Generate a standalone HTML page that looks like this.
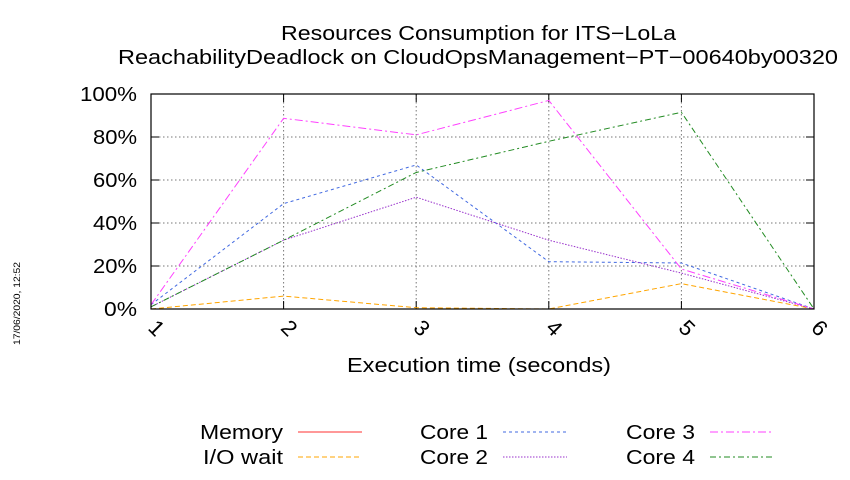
<!DOCTYPE html>
<html><head><meta charset="utf-8"><style>
body{margin:0;background:#fff}
svg{font-family:"Liberation Sans",sans-serif}
</style></head><body>
<svg width="850" height="475" viewBox="0 0 850 475">
<g id="g"></g>
</svg>
<script>
const xTicks=[1,2,3,4,5,6];
const yTicks=[0,20,40,60,80,100];
const memory=[0,0,0,0,0,0];
const ioWait=[0,6,0.6,0,11.8,0];
const core1=[2,49,67,22,21.4,0];
const core2=[1,32,52,32,16.7,0];
const core3=[2,88.7,81,97,18.6,0];
const core4=[1,32,63.5,78,91.5,0];
const L=151,R=814,T=94,B=309;
const xs=v=>L+(v-1)*(R-L)/5, ys=v=>B-v*(B-T)/100;
const ns="http://www.w3.org/2000/svg", g=document.getElementById('g');
function mk(t,a,txt){const e=document.createElementNS(ns,t);for(const k in a)e.setAttribute(k,a[k]);if(txt!=null)e.textContent=txt;g.appendChild(e);return e;}
yTicks.forEach(v=>{
 if(v>0&&v<100){const e=mk('line',{x1:L,x2:R,y1:ys(v),y2:ys(v),stroke:'#777','stroke-dasharray':'1.5,2.5','stroke-width':1});
 
 }
 const w=v===100?57:(v===0?33:44);
 const t=mk('text',{x:137-w,y:ys(v)+7,'font-size':20,textLength:w,lengthAdjust:'spacingAndGlyphs'},v+'%');
 
 
 mk('line',{x1:L,x2:L+8,y1:ys(v),y2:ys(v),stroke:'#000'});
 mk('line',{x1:R,x2:R-8,y1:ys(v),y2:ys(v),stroke:'#000'});
});
xTicks.forEach(v=>{
 if(v>1&&v<6){const e=mk('line',{x1:xs(v),x2:xs(v),y1:T,y2:B,stroke:'#777','stroke-dasharray':'1.5,2.5','stroke-width':1});
 
 }
 mk('line',{x1:xs(v),x2:xs(v),y1:B,y2:B-8,stroke:'#000'});
 mk('line',{x1:xs(v),x2:xs(v),y1:T,y2:T+8,stroke:'#000'});
 const t=mk('text',{x:xs(v)-4,y:B+20,'font-size':22,transform:`rotate(45 ${xs(v)-4} ${B+20})`},v);
 
 
});
const series=[
 ['memory',memory,'#ff3030','none'],
 ['io-wait',ioWait,'#ffa500','5,3'],
 ['core-1',core1,'#4169e1','3,3'],
 ['core-2',core2,'#9932cc','1.5,1.5'],
 ['core-3',core3,'#ff40ff','8,3,2,3'],
 ['core-4',core4,'#228b22','6,3,2,3']];
series.forEach(s=>{
 const p=mk('polyline',{points:s[1].map((v,i)=>xs(xTicks[i])+','+ys(v)).join(' '),fill:'none',stroke:s[2],'stroke-width':1,'stroke-dasharray':s[3]});
 
 
});
const f=mk('rect',{x:L,y:T,width:R-L,height:B-T,fill:'none',stroke:'#000','stroke-width':1.2});


const leg=[['Memory',283,432,'#ff3030','none',83],['I/O wait',283,457,'#ffa500','5,3',80],['Core 1',488,432,'#4169e1','3,3',68],['Core 2',488,457,'#9932cc','1.5,1.5',68],['Core 3',695,432,'#ff40ff','8,3,2,3',69],['Core 4',695,457,'#228b22','6,3,2,3',69]];
leg.forEach(l=>{
 const t=mk('text',{x:l[1]-l[5],y:l[2]+7,'font-size':20,textLength:l[5],lengthAdjust:'spacingAndGlyphs'},l[0]);
 
 
 const ln=mk('line',{x1:l[1]+15,x2:l[1]+79,y1:l[2],y2:l[2],stroke:l[3],'stroke-dasharray':l[4]});
 
 
});
</script>
<svg style="position:absolute;left:0;top:0" width="850" height="475">
<text x="281" y="40" font-size="20" textLength="395" lengthAdjust="spacingAndGlyphs">Resources Consumption for ITS−LoLa</text>
<text x="118" y="64" font-size="20" textLength="720" lengthAdjust="spacingAndGlyphs">ReachabilityDeadlock on CloudOpsManagement−PT−00640by00320</text>
<text x="347" y="372" font-size="20" textLength="264" lengthAdjust="spacingAndGlyphs">Execution time (seconds)</text>
<text x="20" y="345" font-size="9" textLength="83" lengthAdjust="spacingAndGlyphs" transform="rotate(-90 20 345)">17/06/2020, 12:52</text>
</svg>
</body></html>
